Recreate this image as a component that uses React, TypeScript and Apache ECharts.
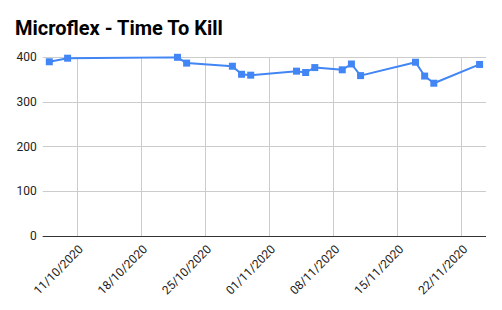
import React, { useEffect, useRef } from "react";
import * as echarts from "echarts";

const dates = [
  "2020-10-08", "2020-10-10", "2020-10-22", "2020-10-23", "2020-10-28",
  "2020-10-29", "2020-10-30", "2020-11-04", "2020-11-05", "2020-11-06",
  "2020-11-09", "2020-11-10", "2020-11-11", "2020-11-17", "2020-11-18",
  "2020-11-19", "2020-11-24",
];
const values = [390, 398, 400, 387, 380, 362, 360, 369, 366, 377, 372, 385, 359, 389, 358, 342, 384];
const tickDates = ["2020-10-11", "2020-10-18", "2020-10-25", "2020-11-01", "2020-11-08", "2020-11-15", "2020-11-22"];
const yTicks = [0, 100, 200, 300, 400];

const DAY = 86400000;
const dayNum = (s: string) => {
  const [y, m, d] = s.split("-").map(Number);
  return Date.UTC(y, m - 1, d) / DAY;
};
const fmt = (v: number) => {
  const dt = new Date(Math.round(v) * DAY);
  const dd = String(dt.getUTCDate()).padStart(2, "0");
  const mm = String(dt.getUTCMonth() + 1).padStart(2, "0");
  return `${dd}/${mm}/${dt.getUTCFullYear()}`;
};

export default function App() {
  const ref = useRef<HTMLDivElement>(null);
  useEffect(() => {
    if (!ref.current) return;
    const chart = echarts.init(ref.current, undefined, { renderer: "svg" });
    const ticks = tickDates.map(dayNum);
    chart.setOption({
      animation: false,
      backgroundColor: "#ffffff",
      textStyle: { fontFamily: "Roboto" },
      title: {
        text: "Microflex - Time To Kill",
        left: 10,
        top: 13,
        textStyle: { fontFamily: "Roboto", fontSize: 20, fontWeight: "bold", color: "#000000" },
      },
      grid: { left: 42.7, right: 16, top: 57.3, bottom: 74, containLabel: false },
      xAxis: {
        type: "value",
        min: ticks[0] - 3.72,
        max: ticks[ticks.length - 1] + 2.7,
        axisLine: { show: false },
        axisTick: { show: false, customValues: ticks },
        splitLine: { show: true, lineStyle: { color: "#cccccc", width: 1 } },
        axisLabel: {
          customValues: ticks,
          interval: 0,
          rotate: 45,
          margin: 7,
          verticalAlign: "top",
          fontSize: 12,
          color: "#222222",
          fontFamily: "Roboto",
          formatter: (v: number) => fmt(v),
        },
      },
      yAxis: {
        type: "value",
        min: yTicks[0],
        max: yTicks[yTicks.length - 1],
        interval: 100,
        axisLine: { show: false },
        axisTick: { show: false },
        splitLine: { show: true, lineStyle: { color: "#cccccc", width: 1 } },
        axisLabel: { fontSize: 12, color: "#222222", margin: 6, fontFamily: "Roboto" },
      },
      series: [
        {
          type: "line",
          data: dates.map((d, i) => [dayNum(d), values[i]]),
          symbol: "rect",
          symbolSize: 7,
          showSymbol: true,
          lineStyle: { color: "#4285f4", width: 2 },
          itemStyle: { color: "#4285f4" },
          z: 3,
        },
        {
          type: "line",
          data: [],
          markLine: {
            silent: true,
            symbol: "none",
            label: { show: false },
            lineStyle: { color: "#333333", width: 1, type: "solid" },
            data: [{ yAxis: 0 }],
          },
        },
      ],
    });
    return () => chart.dispose();
  }, []);
  return <div ref={ref} style={{ position: "fixed", left: 0, top: 0, width: 502, height: 310 }} />;
}
